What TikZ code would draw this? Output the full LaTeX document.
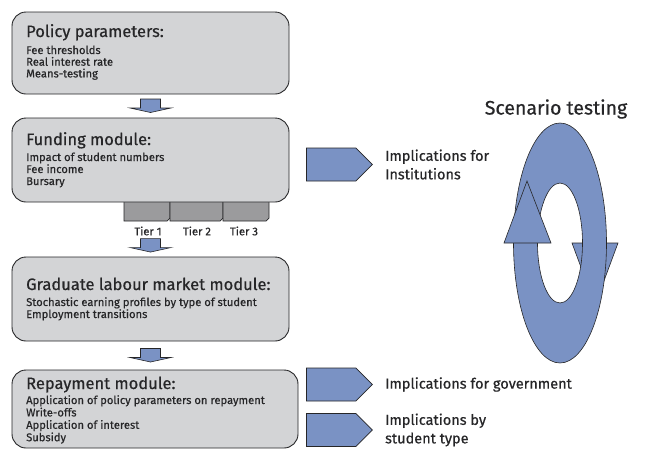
\documentclass[tikz,border=0pt]{standalone}
\usepackage{fontspec}
\setmainfont{Fira Sans}[FakeBold=0.6]
\usetikzlibrary{calc,shapes.symbols}

\definecolor{boxgray}{RGB}{211,212,214}
\definecolor{tabgray}{RGB}{155,155,157}
\definecolor{flowblue}{RGB}{122,146,196}
\definecolor{inkgray}{RGB}{38,38,40}

\begin{document}
\begin{tikzpicture}[x=1pt, y=-1pt,
    module/.style={draw=inkgray, line width=0.9pt, fill=boxgray, rounded corners=14pt, inner sep=0pt},
    modtitle/.style={anchor=base west, inner sep=0pt, text=inkgray, font=\fontsize{16.5}{19}\selectfont},
    moditem/.style={anchor=base west, inner sep=0pt, text=inkgray, font=\fontsize{11.2}{12}\selectfont},
    tiertab/.style={draw=inkgray, line width=0.7pt, fill=tabgray},
    tierlabel/.style={inner sep=0pt, text=inkgray, font=\fontsize{11.2}{12}\selectfont},
    outcome/.style={signal, signal to=east, signal pointer angle=90, draw=inkgray, line width=0.8pt,
        fill=flowblue, minimum width=66pt, minimum height=33pt, inner sep=0pt, anchor=west},
    outtext/.style={anchor=west, align=left, inner sep=0pt, text=inkgray, font=\fontsize{14.5}{18.5}\selectfont},
    downarrow/.pic={
        \draw[draw=inkgray, fill=flowblue, line width=0.6pt]
            (-10,-7) -- (10,-7) -- (10,2) -- (20.5,2) -- (0,6.5) -- (-20.5,2) -- (-10,2) -- cycle;
    }]
    \useasboundingbox (0,0) rectangle (646,451);

    % Policy parameters
    \node[module, minimum width=277pt, minimum height=82pt] (policy) at (150.5,53) {};
    \node[modtitle] (policytitle) at (26,37) {Policy parameters:};
    \foreach \t [count=\i] in {Fee thresholds, Real interest rate, Means-testing}
        \node[moditem] (policy-\i) at (26,{54+11.7*(\i-1)}) {\t};

    % Funding module, with the three tiers under it
    \foreach \a/\b/\n in {124/170/1, 170/223/2, 223/269/3}
        \draw[tiertab] (\a,196) -- (\a,221) -- (\b-3,221) -- (\b,218) -- (\b,196) -- cycle;
    \node[module, minimum width=277pt, minimum height=84pt] (funding) at (150.5,160) {};
    \node[modtitle] (fundingtitle) at (26,145) {Funding module:};
    \foreach \t [count=\i] in {Impact of student numbers, Fee income, Bursary}
        \node[moditem] (funding-\i) at (26,{161+12*(\i-1)}) {\t};
    \foreach \x/\n in {148/1, 197/2, 244/3}
        \node[tierlabel] (tier\n) at (\x,231) {Tier \n};

    % Graduate labour market module
    \node[module, minimum width=277pt, minimum height=84pt] (graduate) at (150.5,299) {};
    \node[modtitle] (graduatetitle) at (26,290) {Graduate labour market module:};
    \foreach \t [count=\i] in {Stochastic earning profiles by type of student, Employment transitions}
        \node[moditem] (graduate-\i) at (26,{306+12*(\i-1)}) {\t};

    % Repayment module
    \node[module, minimum width=286pt, minimum height=78pt] (repay) at (155,409) {};
    \node[modtitle] (repaytitle) at (26,389) {Repayment module:};
    \foreach \t [count=\i] in {Application of policy parameters on repayment, Write-offs, Application of interest, Subsidy}
        \node[moditem] (repay-\i) at (26,{404+12.4*(\i-1)}) {\t};

    % arrows down the chain
    \pic at ($(policy.south)!0.5!(funding.north)$) {downarrow};
    \pic at ($(graduate.north)+(0,-11)$) {downarrow};
    \pic at ($(graduate.south)!0.5!(graduate.south |- repay.north)$) {downarrow};

    % outcomes
    \node[outcome] (inst) at (306,164.5) {};
    \node[outtext] (insttext) at ($(inst.east)+(12,0)$) {Implications for\\Institutions};
    \node[outcome] (gov) at (306,384.5) {};
    \node[outtext] (govtext) at ($(gov.east)+(12,0)$) {Implications for government};
    \node[outcome] (student) at (306,430) {};
    \node[outtext] (studenttext) at ($(student.east)+(12,0)$) {Implications by\\student type};

    % scenario loop
    \node[text=inkgray, inner sep=0pt, font=\fontsize{19.5}{22}\selectfont] (scenario) at (556,109) {Scenario testing};
    \coordinate (loop) at (560,243);
    \draw[draw=inkgray, fill=flowblue, line width=0.6pt] (572,243) -- (618,243) -- (595,305) -- cycle;
    \fill[flowblue, even odd rule] (loop) ellipse [x radius=46.5, y radius=120]
        (loop) ellipse [x radius=22.5, y radius=60];
    \draw[inkgray, line width=0.6pt] (loop) ellipse [x radius=46.5, y radius=120]
        (loop) ellipse [x radius=22.5, y radius=60];
    \draw[draw=inkgray, fill=flowblue, line width=0.6pt] (527,181) -- (504,243) -- (551,243) -- cycle;
\end{tikzpicture}
\end{document}
